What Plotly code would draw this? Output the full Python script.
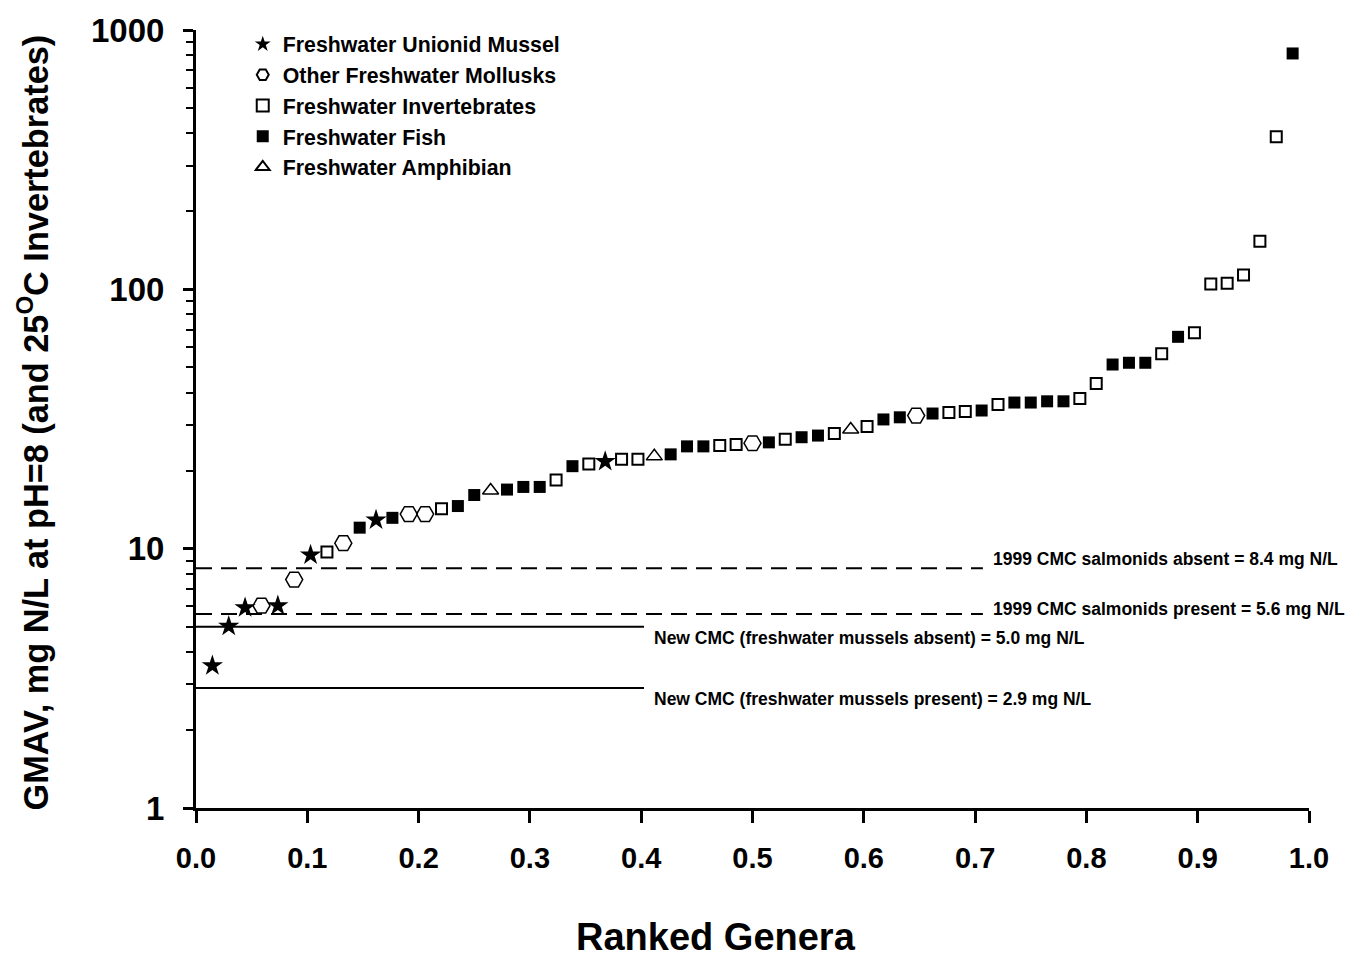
import math
import plotly.graph_objects as go

# ---------------- data ----------------
# group of each genus, in rank order (M=unionid mussel, O=other mollusk,
# I=invertebrate, F=fish, A=amphibian)
groups = [
    "M", "M", "M", "O", "M", "O", "M", "I", "O", "F",
    "M", "F", "O", "O", "I", "F", "F", "A", "F", "F",
    "F", "I", "F", "I", "M", "I", "I", "A", "F", "F",
    "F", "I", "I", "O", "F", "I", "F", "F", "I", "A",
    "I", "F", "F", "O", "F", "I", "I", "F", "I", "F",
    "F", "F", "F", "I", "I", "F", "F", "F", "I", "F",
    "I", "I", "I", "I", "I", "I", "F",
]
# GMAV values (mg N/L) in rank order
gmav = [
    3.54, 5.02, 5.92, 6.03, 6.03, 7.6, 9.46, 9.71, 10.5, 12.05,
    12.9, 13.15, 13.6, 13.6, 14.25, 14.6, 16.1, 16.75, 16.9, 17.3,
    17.3, 18.4, 20.8, 21.2, 21.7, 22.1, 22.1, 22.7, 23.1, 24.8,
    24.8, 25.0, 25.2, 25.5, 25.7, 26.4, 26.9, 27.3, 27.8, 28.8,
    29.6, 31.5, 32.1, 32.6, 33.2, 33.5, 33.8, 34.1, 36.0, 36.6,
    36.6, 37.0, 37.0, 37.9, 43.3, 51.3, 52.1, 52.1, 56.5, 65.6,
    68.0, 104.9, 105.6, 113.6, 153.4, 388.0, 812.0,
]
n_genera = len(gmav)
ranked = [(i + 1) / (n_genera + 1) for i in range(n_genera)]

group_codes = ["M", "O", "I", "F", "A"]
group_names = [
    "Freshwater Unionid Mussel",
    "Other Freshwater Mollusks",
    "Freshwater Invertebrates",
    "Freshwater Fish",
    "Freshwater Amphibian",
]

# criteria lines (mg N/L)
crit_values = [8.4, 5.6, 5.0, 2.9]
crit_labels = [
    "1999 CMC salmonids absent = 8.4 mg N/L",
    "1999 CMC salmonids present = 5.6 mg N/L",
    "New CMC (freshwater mussels absent) = 5.0 mg N/L",
    "New CMC (freshwater mussels present) = 2.9 mg N/L",
]

y_tick_vals = [1, 10, 100, 1000]
y_tick_text = ["1", "10", "100", "1000"]
x_tick_vals = [0.0, 0.1, 0.2, 0.3, 0.4, 0.5, 0.6, 0.7, 0.8, 0.9, 1.0]
x_tick_text = ["0.0", "0.1", "0.2", "0.3", "0.4", "0.5", "0.6", "0.7", "0.8", "0.9", "1.0"]

# ---------------- styles ----------------
FONT = "Liberation Sans, Arial, sans-serif"
styles = {
    "M": dict(symbol="star", size=16, color="black", line=dict(width=0)),
    "O": dict(symbol="hexagon2-open", size=17, color="black", line=dict(width=1.5, color="black")),
    "I": dict(symbol="square-open", size=11, color="black", line=dict(width=2, color="black")),
    "F": dict(symbol="square", size=12, color="black", line=dict(width=0)),
    "A": dict(symbol="triangle-up-open", size=14, color="black", line=dict(width=1.5, color="black")),
}

fig = go.Figure()

# criteria lines
line_ends = [0.707, 0.707, 0.4025, 0.4025]
line_dash = ["16px,9px", "16px,9px", "solid", "solid"]
for v, xe, d in zip(crit_values, line_ends, line_dash):
    fig.add_trace(go.Scatter(
        x=[0, xe], y=[v, v], mode="lines",
        line=dict(color="black", width=2, dash=d),
        showlegend=False, hoverinfo="skip",
    ))

for code, name in zip(group_codes, group_names):
    xs = [r for r, g in zip(ranked, groups) if g == code]
    ys = [v for v, g in zip(gmav, groups) if g == code]
    fig.add_trace(go.Scatter(
        x=xs, y=ys, mode="markers", name=name,
        marker=styles[code],
    ))

# line labels
label_x = [0.7145, 0.7145, 0.4095, 0.4095]
label_shift = [9, 5, -11, -11]
for v, lab, lx, sh in zip(crit_values, crit_labels, label_x, label_shift):
    fig.add_annotation(
        x=lx, y=math.log10(v), xref="x", yref="y", text=lab,
        showarrow=False, xanchor="left", yanchor="middle", yshift=sh,
        font=dict(family=FONT, size=17.5, color="black", weight="bold"),
    )

# axis titles
fig.add_annotation(
    x=0.467, y=-0.166, xref="paper", yref="paper", text="<b>Ranked Genera</b>",
    showarrow=False, xanchor="center", yanchor="middle",
    font=dict(family=FONT, size=38, color="black"),
)
fig.add_annotation(
    x=-0.1465, y=0.4955, xref="paper", yref="paper",
    text="<b>GMAV, mg N/L at pH=8 (and 25<sup>O</sup>C Invertebrates)</b>",
    showarrow=False, xanchor="center", yanchor="middle", textangle=-90,
    font=dict(family=FONT, size=34.3, color="black"),
)

minor_vals = [m * 10 ** e for e in range(0, 3) for m in range(2, 10)]

fig.update_layout(
    width=1366, height=957,
    margin=dict(l=196, r=57, t=24, b=149),
    paper_bgcolor="white", plot_bgcolor="white",
    font=dict(family=FONT, color="black"),
    legend=dict(
        x=0.042, y=1.008, xanchor="left", yanchor="top",
        bgcolor="rgba(0,0,0,0)", itemsizing="constant",
        font=dict(family=FONT, size=21.3, color="black", weight="bold"),
        tracegroupgap=0,
    ),
    xaxis=dict(
        range=[0, 1.0], tickmode="array", tickvals=x_tick_vals, ticktext=x_tick_text,
        ticks="outside", ticklen=12, tickwidth=3, tickcolor="black",
        showline=True, linewidth=3, linecolor="black",
        showgrid=False, zeroline=False,
        tickfont=dict(family=FONT, size=29, color="black", weight="bold"),
        ticklabelstandoff=10,
    ),
    yaxis=dict(
        type="log", range=[0, 3], tickmode="array", tickvals=y_tick_vals, ticktext=y_tick_text,
        ticks="outside", ticklen=10, tickwidth=3, tickcolor="black",
        showline=True, linewidth=3, linecolor="black",
        showgrid=False, zeroline=False,
        tickfont=dict(family=FONT, size=33, color="black", weight="bold"),
        ticklabelstandoff=12,
        minor=dict(tickmode="array", tickvals=minor_vals, ticks="outside",
                   ticklen=7, tickwidth=2, tickcolor="black", showgrid=False),
    ),
)

fig.write_html("out.html")
